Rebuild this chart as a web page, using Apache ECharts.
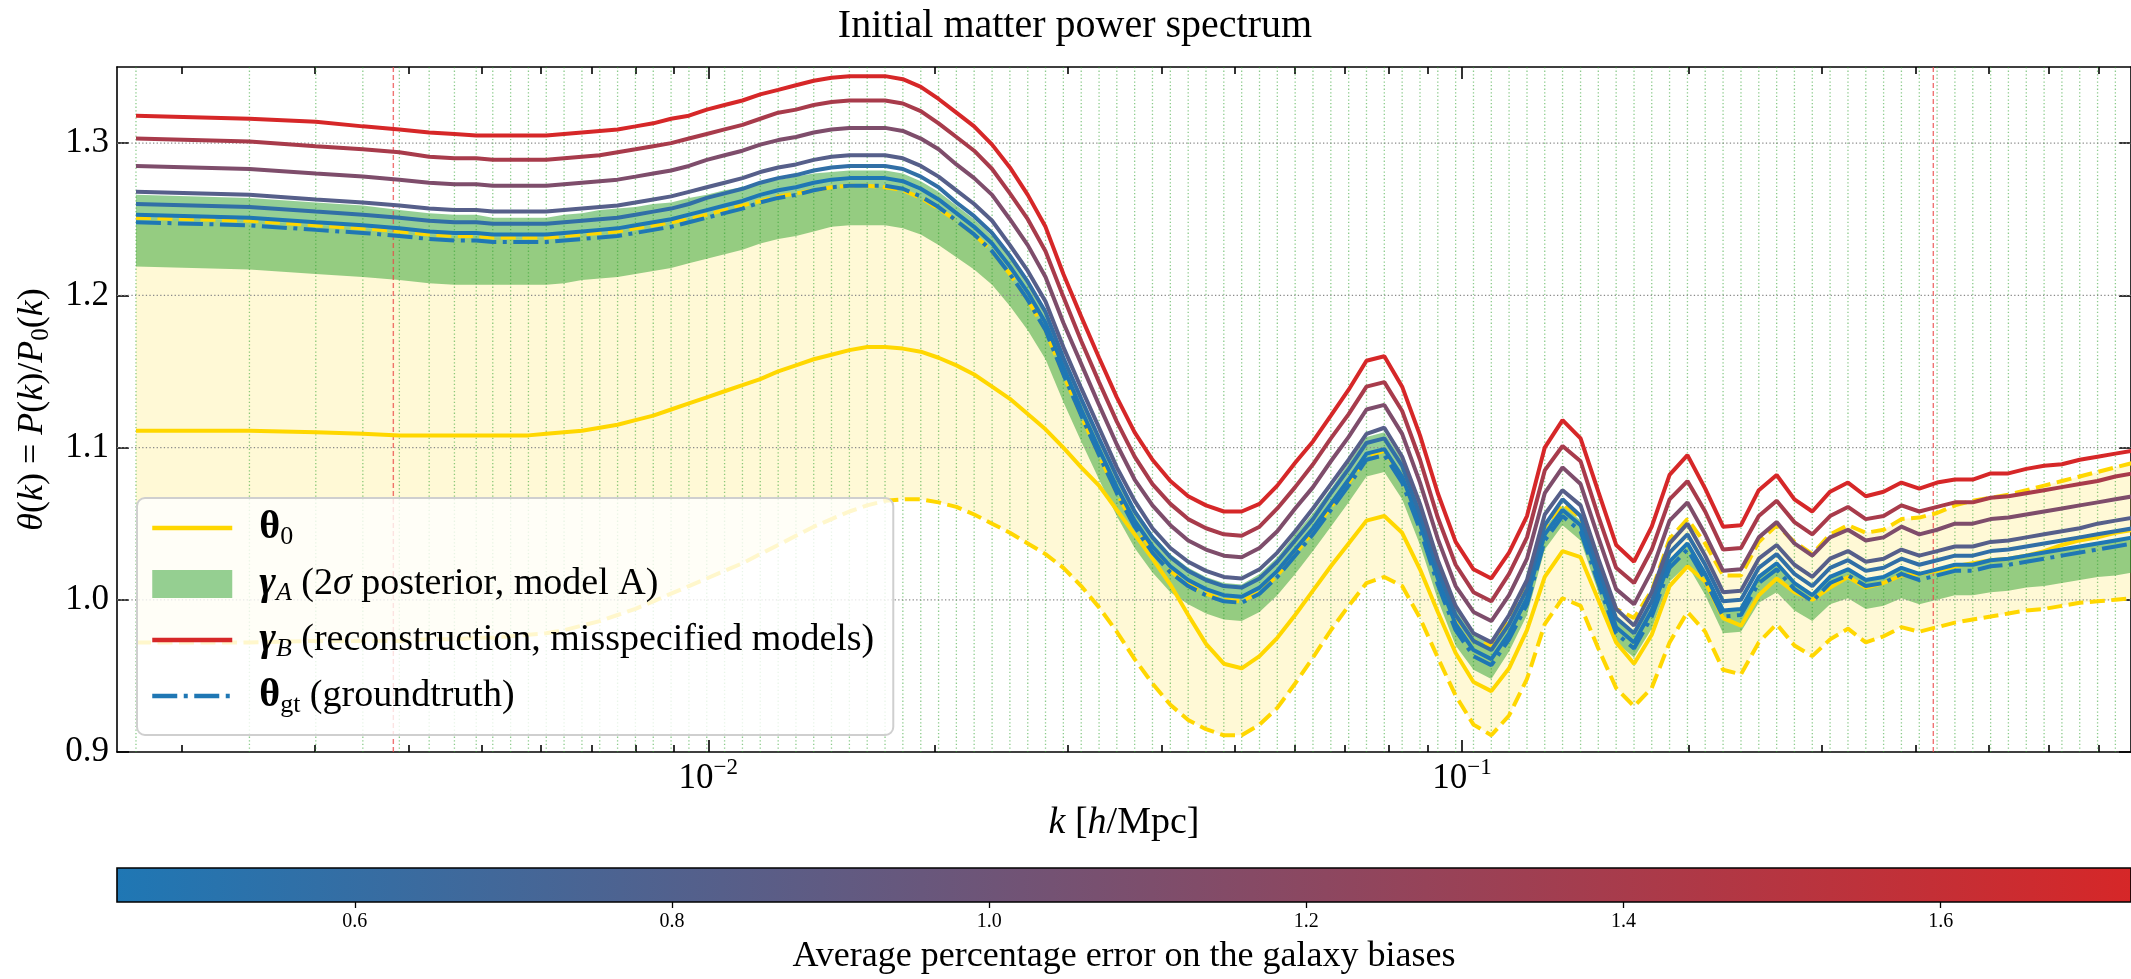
<!DOCTYPE html>
<html>
<head>
<meta charset="utf-8">
<script src="https://cdn.jsdelivr.net/npm/echarts@6/dist/echarts.min.js"></script>
<style>
html,body{margin:0;padding:0;background:#fff;}
#chart{width:2131px;height:979px;}
</style>
</head>
<body>
<div id="chart"></div>
<script>
// Wavenumber bins k [h/Mpc]
const kBins = [0.00174, 0.002461, 0.003014, 0.00348, 0.003891, 0.004262, 0.004604, 0.004921,
  0.005176, 0.005466, 0.005772, 0.006095, 0.006436, 0.006797, 0.007177, 0.007579, 0.008004, 0.008452,
  0.008925, 0.009425, 0.009953, 0.01051, 0.0111, 0.01172, 0.01238, 0.01307, 0.0138, 0.01457,
  0.01539, 0.01625, 0.01716, 0.01812, 0.01914, 0.02021, 0.02134, 0.02253, 0.0238, 0.02513,
  0.02654, 0.02802, 0.02959, 0.03125, 0.033, 0.03484, 0.03679, 0.03885, 0.04103, 0.04333,
  0.04575, 0.04831, 0.05102, 0.05388, 0.05689, 0.06008, 0.06344, 0.067, 0.07075, 0.07471,
  0.07889, 0.08331, 0.08798, 0.0929, 0.0981, 0.1036, 0.1094, 0.1155, 0.122, 0.1288,
  0.136, 0.1437, 0.1517, 0.1602, 0.1692, 0.1786, 0.1886, 0.1992, 0.2103, 0.2221,
  0.2346, 0.2477, 0.2616, 0.2762, 0.2917, 0.308, 0.3253, 0.3435, 0.3627, 0.383,
  0.4045, 0.4271, 0.451, 0.4763, 0.503, 0.5311, 0.5609, 0.5923, 0.6254, 0.6604,
  0.6974, 0.7364, 0.7775];

// Fiducial prior spectrum theta_0 and its band
const theta0Fid = [1.111, 1.111, 1.110, 1.109, 1.108, 1.108, 1.108, 1.108, 1.108, 1.108,
  1.108, 1.109, 1.110, 1.111, 1.113, 1.115, 1.118, 1.121, 1.125, 1.129,
  1.133, 1.137, 1.141, 1.145, 1.150, 1.154, 1.158, 1.161, 1.164, 1.166,
  1.166, 1.165, 1.163, 1.159, 1.154, 1.148, 1.140, 1.132, 1.122, 1.112,
  1.100, 1.087, 1.075, 1.059, 1.043, 1.027, 1.010, 0.990, 0.971, 0.958,
  0.955, 0.963, 0.975, 0.990, 1.006, 1.022, 1.037, 1.052, 1.055, 1.044,
  1.020, 0.992, 0.965, 0.946, 0.940, 0.955, 0.980, 1.015, 1.032, 1.028,
  1.000, 0.972, 0.958, 0.977, 1.009, 1.022, 1.012, 0.988, 0.983, 1.003,
  1.014, 1.005, 1.000, 1.008, 1.015, 1.008, 1.011, 1.016, 1.017, 1.019,
  1.022, 1.024, 1.026, 1.027, 1.029, 1.032, 1.036, 1.039, 1.041, 1.044,
  1.046];
const theta0Upper = [1.251, 1.249, 1.246, 1.244, 1.242, 1.240, 1.239, 1.239, 1.238, 1.238,
  1.238, 1.238, 1.239, 1.240, 1.241, 1.242, 1.244, 1.246, 1.248, 1.250,
  1.253, 1.256, 1.259, 1.262, 1.265, 1.267, 1.269, 1.271, 1.272, 1.272,
  1.271, 1.269, 1.264, 1.257, 1.249, 1.240, 1.229, 1.214, 1.197, 1.177,
  1.148, 1.121, 1.095, 1.070, 1.049, 1.032, 1.019, 1.010, 1.004, 1.000,
  0.999, 1.005, 1.016, 1.030, 1.045, 1.061, 1.077, 1.094, 1.098, 1.081,
  1.051, 1.017, 0.989, 0.973, 0.970, 0.986, 1.008, 1.048, 1.063, 1.054,
  1.022, 0.994, 0.988, 1.006, 1.040, 1.053, 1.037, 1.016, 1.016, 1.038,
  1.049, 1.038, 1.030, 1.043, 1.049, 1.044, 1.046, 1.053, 1.054, 1.057,
  1.062, 1.065, 1.067, 1.069, 1.072, 1.075, 1.078, 1.081, 1.084, 1.087,
  1.090];
const theta0Lower = [0.972, 0.972, 0.973, 0.973, 0.973, 0.974, 0.974, 0.975, 0.975, 0.976,
  0.977, 0.978, 0.980, 0.983, 0.986, 0.990, 0.994, 0.999, 1.004, 1.009,
  1.014, 1.019, 1.024, 1.030, 1.036, 1.042, 1.048, 1.053, 1.058, 1.062,
  1.065, 1.066, 1.066, 1.064, 1.061, 1.056, 1.050, 1.044, 1.037, 1.030,
  1.021, 1.009, 0.995, 0.979, 0.961, 0.945, 0.931, 0.921, 0.915, 0.911,
  0.911, 0.918, 0.929, 0.945, 0.962, 0.980, 0.996, 1.011, 1.015, 1.009,
  0.988, 0.962, 0.937, 0.918, 0.911, 0.924, 0.948, 0.984, 1.001, 0.996,
  0.968, 0.942, 0.930, 0.942, 0.972, 0.992, 0.979, 0.954, 0.951, 0.972,
  0.984, 0.970, 0.963, 0.974, 0.981, 0.972, 0.976, 0.982, 0.979, 0.982,
  0.985, 0.987, 0.989, 0.991, 0.993, 0.994, 0.996, 0.998, 0.999, 1.000,
  1.001];

// Model A posterior, 2 sigma band
const gammaAUpper = [1.266, 1.264, 1.261, 1.259, 1.256, 1.254, 1.253, 1.253, 1.251, 1.251,
  1.251, 1.251, 1.253, 1.254, 1.256, 1.257, 1.258, 1.260, 1.261, 1.264,
  1.266, 1.269, 1.271, 1.274, 1.276, 1.278, 1.280, 1.281, 1.282, 1.282,
  1.282, 1.280, 1.275, 1.268, 1.259, 1.250, 1.239, 1.225, 1.208, 1.188,
  1.159, 1.132, 1.106, 1.082, 1.060, 1.043, 1.030, 1.021, 1.015, 1.011,
  1.010, 1.017, 1.028, 1.043, 1.057, 1.073, 1.090, 1.107, 1.110, 1.092,
  1.061, 1.025, 0.995, 0.978, 0.972, 0.987, 1.008, 1.047, 1.062, 1.052,
  1.019, 0.987, 0.977, 0.996, 1.026, 1.037, 1.017, 0.993, 0.994, 1.015,
  1.024, 1.011, 1.003, 1.015, 1.020, 1.013, 1.015, 1.021, 1.017, 1.020,
  1.023, 1.023, 1.026, 1.027, 1.029, 1.031, 1.033, 1.035, 1.037, 1.039,
  1.041];
const gammaALower = [1.219, 1.217, 1.214, 1.212, 1.210, 1.208, 1.207, 1.207, 1.207, 1.207,
  1.207, 1.207, 1.208, 1.210, 1.211, 1.212, 1.214, 1.216, 1.218, 1.221,
  1.224, 1.227, 1.230, 1.234, 1.237, 1.239, 1.242, 1.245, 1.246, 1.246,
  1.246, 1.244, 1.240, 1.233, 1.225, 1.217, 1.207, 1.193, 1.177, 1.158,
  1.130, 1.104, 1.079, 1.055, 1.034, 1.018, 1.005, 0.997, 0.991, 0.987,
  0.986, 0.992, 1.003, 1.017, 1.032, 1.048, 1.064, 1.081, 1.084, 1.066,
  1.036, 1.000, 0.970, 0.954, 0.948, 0.966, 0.990, 1.033, 1.049, 1.039,
  1.005, 0.972, 0.962, 0.981, 1.012, 1.023, 1.003, 0.978, 0.979, 0.998,
  1.005, 0.993, 0.986, 0.997, 1.001, 0.994, 0.996, 1.001, 0.997, 1.000,
  1.003, 1.003, 1.005, 1.006, 1.008, 1.009, 1.011, 1.013, 1.015, 1.016,
  1.018];

// Ground truth spectrum
const thetaGroundTruth = [1.248, 1.246, 1.243, 1.241, 1.239, 1.237, 1.236, 1.236, 1.235, 1.235,
  1.235, 1.235, 1.236, 1.237, 1.238, 1.239, 1.241, 1.243, 1.245, 1.248,
  1.251, 1.254, 1.257, 1.261, 1.264, 1.266, 1.269, 1.271, 1.272, 1.272,
  1.272, 1.270, 1.265, 1.258, 1.249, 1.240, 1.229, 1.214, 1.197, 1.177,
  1.148, 1.121, 1.095, 1.070, 1.048, 1.031, 1.018, 1.009, 1.003, 0.999,
  0.998, 1.004, 1.015, 1.029, 1.043, 1.059, 1.075, 1.092, 1.095, 1.077,
  1.046, 1.010, 0.980, 0.963, 0.957, 0.974, 0.997, 1.039, 1.055, 1.045,
  1.011, 0.978, 0.968, 0.989, 1.021, 1.033, 1.013, 0.989, 0.990, 1.011,
  1.020, 1.007, 0.999, 1.011, 1.016, 1.009, 1.011, 1.017, 1.013, 1.016,
  1.019, 1.019, 1.022, 1.023, 1.025, 1.027, 1.029, 1.031, 1.033, 1.035,
  1.037];

// Reconstructions with misspecified models (model B), one per bias error level
const biasErrors = [0.45, 0.577, 0.83, 1.11, 1.40, 1.72];
const recon045 = [1.253, 1.251, 1.248, 1.246, 1.244, 1.242, 1.241, 1.241, 1.240, 1.240,
  1.240, 1.240, 1.241, 1.242, 1.243, 1.244, 1.246, 1.248, 1.250, 1.253,
  1.256, 1.259, 1.262, 1.266, 1.269, 1.271, 1.274, 1.276, 1.277, 1.277,
  1.277, 1.275, 1.270, 1.263, 1.254, 1.245, 1.234, 1.219, 1.202, 1.182,
  1.153, 1.125, 1.099, 1.074, 1.052, 1.035, 1.022, 1.013, 1.007, 1.003,
  1.002, 1.008, 1.019, 1.033, 1.047, 1.063, 1.079, 1.096, 1.099, 1.081,
  1.050, 1.014, 0.984, 0.967, 0.961, 0.978, 1.001, 1.043, 1.059, 1.049,
  1.015, 0.982, 0.972, 0.993, 1.025, 1.037, 1.017, 0.993, 0.994, 1.015,
  1.024, 1.011, 1.003, 1.015, 1.020, 1.013, 1.015, 1.021, 1.017, 1.020,
  1.023, 1.023, 1.026, 1.027, 1.029, 1.031, 1.033, 1.035, 1.037, 1.039,
  1.041];
const recon058 = [1.260, 1.258, 1.255, 1.253, 1.251, 1.249, 1.248, 1.248, 1.247, 1.247,
  1.247, 1.247, 1.248, 1.249, 1.250, 1.251, 1.253, 1.255, 1.257, 1.260,
  1.264, 1.267, 1.270, 1.274, 1.277, 1.279, 1.282, 1.284, 1.285, 1.285,
  1.285, 1.283, 1.278, 1.271, 1.261, 1.252, 1.241, 1.226, 1.209, 1.189,
  1.159, 1.132, 1.106, 1.081, 1.058, 1.041, 1.028, 1.019, 1.013, 1.009,
  1.008, 1.014, 1.025, 1.039, 1.053, 1.070, 1.086, 1.103, 1.106, 1.088,
  1.056, 1.020, 0.990, 0.973, 0.967, 0.984, 1.007, 1.049, 1.066, 1.055,
  1.021, 0.988, 0.978, 0.999, 1.031, 1.043, 1.023, 0.999, 1.000, 1.021,
  1.030, 1.017, 1.009, 1.021, 1.026, 1.019, 1.021, 1.027, 1.023, 1.026,
  1.029, 1.029, 1.032, 1.033, 1.035, 1.037, 1.039, 1.041, 1.043, 1.045,
  1.047];
const recon083 = [1.268, 1.266, 1.263, 1.261, 1.259, 1.257, 1.256, 1.256, 1.255, 1.255,
  1.255, 1.255, 1.256, 1.257, 1.258, 1.259, 1.261, 1.263, 1.265, 1.268,
  1.271, 1.274, 1.277, 1.281, 1.284, 1.286, 1.289, 1.291, 1.292, 1.292,
  1.292, 1.290, 1.285, 1.278, 1.269, 1.260, 1.249, 1.233, 1.216, 1.196,
  1.166, 1.139, 1.113, 1.087, 1.065, 1.047, 1.034, 1.025, 1.019, 1.015,
  1.014, 1.020, 1.031, 1.045, 1.060, 1.076, 1.092, 1.109, 1.113, 1.094,
  1.063, 1.026, 0.996, 0.978, 0.972, 0.990, 1.013, 1.056, 1.072, 1.062,
  1.027, 0.994, 0.983, 1.005, 1.037, 1.050, 1.029, 1.005, 1.006, 1.027,
  1.036, 1.023, 1.015, 1.027, 1.032, 1.025, 1.027, 1.033, 1.029, 1.032,
  1.035, 1.035, 1.038, 1.039, 1.041, 1.043, 1.045, 1.047, 1.050, 1.052,
  1.054];
const recon111 = [1.285, 1.283, 1.280, 1.278, 1.276, 1.274, 1.273, 1.273, 1.272, 1.272,
  1.272, 1.272, 1.273, 1.274, 1.275, 1.276, 1.278, 1.280, 1.282, 1.285,
  1.289, 1.292, 1.295, 1.299, 1.302, 1.304, 1.307, 1.309, 1.310, 1.310,
  1.310, 1.308, 1.303, 1.296, 1.286, 1.277, 1.266, 1.250, 1.233, 1.212,
  1.182, 1.155, 1.128, 1.102, 1.079, 1.062, 1.049, 1.039, 1.033, 1.029,
  1.028, 1.034, 1.045, 1.060, 1.074, 1.091, 1.107, 1.125, 1.128, 1.109,
  1.077, 1.040, 1.009, 0.992, 0.986, 1.003, 1.027, 1.070, 1.087, 1.076,
  1.041, 1.007, 0.997, 1.019, 1.052, 1.064, 1.043, 1.019, 1.020, 1.041,
  1.051, 1.037, 1.029, 1.041, 1.046, 1.039, 1.041, 1.048, 1.043, 1.046,
  1.050, 1.050, 1.053, 1.054, 1.056, 1.058, 1.060, 1.062, 1.064, 1.066,
  1.068];
const recon140 = [1.303, 1.301, 1.298, 1.296, 1.294, 1.291, 1.290, 1.290, 1.289, 1.289,
  1.289, 1.289, 1.290, 1.291, 1.292, 1.294, 1.296, 1.298, 1.300, 1.303,
  1.306, 1.309, 1.312, 1.316, 1.320, 1.322, 1.325, 1.327, 1.328, 1.328,
  1.328, 1.326, 1.321, 1.313, 1.304, 1.295, 1.283, 1.267, 1.250, 1.229,
  1.199, 1.170, 1.143, 1.117, 1.094, 1.076, 1.063, 1.053, 1.047, 1.043,
  1.042, 1.048, 1.060, 1.074, 1.089, 1.106, 1.122, 1.140, 1.143, 1.124,
  1.092, 1.054, 1.023, 1.005, 0.999, 1.017, 1.041, 1.085, 1.101, 1.091,
  1.055, 1.021, 1.011, 1.033, 1.066, 1.078, 1.058, 1.033, 1.034, 1.055,
  1.065, 1.051, 1.043, 1.055, 1.061, 1.053, 1.055, 1.062, 1.058, 1.061,
  1.064, 1.064, 1.067, 1.068, 1.070, 1.072, 1.074, 1.076, 1.078, 1.081,
  1.083];
const recon172 = [1.318, 1.316, 1.314, 1.311, 1.309, 1.307, 1.306, 1.305, 1.305, 1.305,
  1.305, 1.305, 1.306, 1.307, 1.308, 1.309, 1.311, 1.313, 1.316, 1.318,
  1.322, 1.325, 1.328, 1.332, 1.335, 1.338, 1.341, 1.343, 1.344, 1.344,
  1.344, 1.342, 1.337, 1.329, 1.320, 1.311, 1.299, 1.284, 1.266, 1.245,
  1.214, 1.186, 1.159, 1.133, 1.110, 1.092, 1.078, 1.068, 1.062, 1.058,
  1.058, 1.063, 1.075, 1.090, 1.104, 1.121, 1.138, 1.157, 1.160, 1.140,
  1.108, 1.070, 1.038, 1.020, 1.014, 1.031, 1.055, 1.100, 1.118, 1.106,
  1.071, 1.036, 1.025, 1.048, 1.082, 1.095, 1.073, 1.048, 1.049, 1.072,
  1.082, 1.066, 1.058, 1.071, 1.077, 1.068, 1.071, 1.077, 1.073, 1.077,
  1.079, 1.079, 1.083, 1.083, 1.086, 1.088, 1.089, 1.092, 1.094, 1.096,
  1.098];
const reconCurves = [recon045, recon058, recon083, recon111, recon140, recon172];

// Axis ranges and ticks
const kAxisMin = 0.001642, kAxisMax = 0.7724;
const kMajorTicks = [0.01, 0.1];
const kMinorTicks = [0.002, 0.003, 0.004, 0.005, 0.006, 0.007, 0.008, 0.009,
  0.02, 0.03, 0.04, 0.05, 0.06, 0.07, 0.08, 0.09, 0.2, 0.3, 0.4, 0.5, 0.6, 0.7];
const kCuts = [0.00382, 0.4222];
const yMin = 0.9, yMax = 1.35;
const yTicks = [0.9, 1.0, 1.1, 1.2, 1.3];
const colorbarTicks = [0.6, 0.8, 1.0, 1.2, 1.4, 1.6];

const FONT = 'Liberation Serif';
const GOLD = '#FFD700';
const BLUE = [31, 119, 180], RED = [214, 39, 40];
const errMin = Math.min(...biasErrors), errMax = Math.max(...biasErrors);
function errColor(e) {
  const t = (e - errMin) / (errMax - errMin);
  const c = BLUE.map((a, j) => Math.round(a + (RED[j] - a) * t));
  return 'rgb(' + c.join(',') + ')';
}
const lg = k => Math.log10(k);
const xMin = lg(kAxisMin), xMax = lg(kAxisMax);
const pairs = arr => kBins.map((k, i) => [lg(k), arr[i]]);

function lineSeries(name, arr, color, width, type, z) {
  return {
    type: 'line', name, data: pairs(arr), xAxisIndex: 0, yAxisIndex: 0,
    symbol: 'none', showSymbol: false, z, silent: true,
    lineStyle: { color, width, type, cap: 'butt' }, itemStyle: { color },
    emphasis: { disabled: true }
  };
}

function bandSeries(name, lower, upper, color, z) {
  return {
    type: 'custom', name, z, clip: true, silent: true,
    xAxisIndex: 0, yAxisIndex: 0,
    data: kBins.map((k, i) => [lg(k), lower[i], upper[i]]),
    encode: { x: 0, y: [1, 2] },
    itemStyle: { color },
    renderItem(params, api) {
      if (params.dataIndex !== 0) return null;
      const top = kBins.map((k, i) => api.coord([lg(k), upper[i]]));
      const bottom = kBins.map((k, i) => api.coord([lg(k), lower[i]])).reverse();
      return { type: 'polygon', shape: { points: top.concat(bottom) }, style: { fill: color } };
    }
  };
}

function vLineSeries(values, stroke, width, dash, z) {
  return {
    type: 'custom', z, silent: true, clip: true, xAxisIndex: 0, yAxisIndex: 0,
    data: values.map(k => [lg(k), yMin]), encode: { x: 0, y: 1 },
    renderItem(params, api) {
      const x = api.value(0);
      const a = api.coord([x, yMax]), b = api.coord([x, yMin]);
      return { type: 'line', shape: { x1: a[0], y1: a[1], x2: b[0], y2: b[1] },
        style: { stroke, lineWidth: width, lineDash: dash } };
    }
  };
}

function hLineSeries(values, stroke, width, dash, z) {
  return {
    type: 'custom', z, silent: true, clip: true, xAxisIndex: 0, yAxisIndex: 0,
    data: values.map(v => [xMin, v]), encode: { x: 0, y: 1 },
    renderItem(params, api) {
      const v = api.value(1);
      const a = api.coord([xMin, v]), b = api.coord([xMax, v]);
      return { type: 'line', shape: { x1: a[0], y1: a[1], x2: b[0], y2: b[1] },
        style: { stroke, lineWidth: width, lineDash: dash } };
    }
  };
}

const axisBlack = { color: '#000', width: 1.6 };
const xBase = {
  type: 'value', gridIndex: 0, min: xMin, max: xMax,
  splitLine: { show: false }, axisLabel: { show: false },
  axisLine: { show: false }, axisTick: { show: false }
};
const majorX = kMajorTicks.map(lg);
const minorX = kMinorTicks.map(lg);

const legendText = {
  theta0: '{bs|θ}{sub|0}',
  gammaA: '{bi|γ}{subi|A}{t| (2}{ti|σ}{t| posterior, model A)}',
  gammaB: '{bi|γ}{subi|B}{t| (reconstruction, misspecified models)}',
  thetaGt: '{bs|θ}{sub|gt}{t| (groundtruth)}'
};

const series = [
  bandSeries('theta0Band', theta0Lower, theta0Upper, 'rgba(255,215,0,0.16)', 1),
  bandSeries('gammaA', gammaALower, gammaAUpper, 'rgba(44,160,44,0.5)', 2),
  vLineSeries(kBins, 'rgba(44,160,44,0.55)', 1.3, [1.3, 2.3], 3),
  vLineSeries(kCuts, 'rgba(235,70,70,0.75)', 1.4, [5, 3], 3),
  hLineSeries(yTicks.slice(1), '#8a8a8a', 1.3, [1.3, 2.3], 3),
  lineSeries('theta0Low', theta0Lower, GOLD, 4, [15, 6.5], 4),
  lineSeries('theta0High', theta0Upper, GOLD, 4, [15, 6.5], 4),
  lineSeries('theta0', theta0Fid, GOLD, 4, 'solid', 4)
];
reconCurves.forEach((arr, j) => {
  const e = biasErrors[j];
  const name = e === errMax ? 'gammaB' : 'gammaB_' + e;
  series.push(lineSeries(name, arr, errColor(e), 4, 'solid', 5));
});
series.push(lineSeries('thetaGt', thetaGroundTruth, '#1f77b4', 4, [25, 6.5, 4, 6.5], 6));

// colour bar of the bias error levels
series.push({
  type: 'custom', xAxisIndex: 4, yAxisIndex: 2, silent: true, z: 2,
  data: [[errMin, 0, errMax, 1]], encode: { x: [0, 2], y: [1, 3] },
  renderItem(params, api) {
    const p0 = api.coord([api.value(0), api.value(3)]);
    const p1 = api.coord([api.value(2), api.value(1)]);
    return {
      type: 'rect',
      shape: { x: p0[0], y: p0[1], width: p1[0] - p0[0], height: p1[1] - p0[1] },
      style: {
        fill: new echarts.graphic.LinearGradient(0, 0, 1, 0, [
          { offset: 0, color: errColor(errMin) }, { offset: 1, color: errColor(errMax) }]),
        stroke: '#000', lineWidth: 1.6
      }
    };
  }
});

const option = {
  animation: false,
  backgroundColor: '#fff',
  textStyle: { fontFamily: FONT, color: '#000' },
  title: {
    text: 'Initial matter power spectrum', left: 1075, textAlign: 'center', top: 6, padding: 0,
    textStyle: { fontFamily: FONT, fontSize: 40, fontWeight: 'normal', color: '#000' }
  },
  grid: [
    { left: 117, top: 67, width: 2019, height: 685, containLabel: false },
    { left: 117, top: 868, width: 2019, height: 35, containLabel: false }
  ],
  legend: {
    z: 20, zlevel: 0,
    orient: 'vertical', left: 137, top: 498,
    itemWidth: 80, itemHeight: 28, itemGap: 14,
    padding: [10, 19, 17, 13],
    backgroundColor: 'rgba(255,255,255,0.8)', borderColor: '#cfcfcf', borderWidth: 2, borderRadius: 8,
    selectedMode: false,
    // line entries show only the line stroke, no marker
    itemStyle: { opacity: 0 },
    lineStyle: { width: 4.5 },
    data: [
      { name: 'theta0' },
      { name: 'gammaA', icon: 'rect', itemStyle: { color: 'rgba(44,160,44,0.5)', opacity: 1 } },
      { name: 'gammaB' },
      { name: 'thetaGt' }
    ],
    formatter: n => legendText[n],
    textStyle: {
      fontFamily: FONT, fontSize: 38, color: '#000', padding: [0, 0, 0, 22],
      rich: {
        t: { fontFamily: FONT, fontSize: 38, lineHeight: 44 },
        ti: { fontFamily: FONT, fontSize: 38, fontStyle: 'italic', lineHeight: 44 },
        bs: { fontFamily: FONT, fontSize: 40, fontWeight: 'bold', lineHeight: 44 },
        bi: { fontFamily: FONT, fontSize: 40, fontWeight: 'bold', fontStyle: 'italic', lineHeight: 44 },
        sub: { fontFamily: FONT, fontSize: 26, lineHeight: 28, verticalAlign: 'bottom' },
        subi: { fontFamily: FONT, fontSize: 26, fontStyle: 'italic', lineHeight: 28, verticalAlign: 'bottom' }
      }
    }
  },
  xAxis: [
    Object.assign({}, xBase, {
      position: 'bottom',
      axisLine: { show: true, onZero: false, lineStyle: axisBlack },
      axisTick: { show: true, inside: true, length: 12, lineStyle: axisBlack, customValues: majorX },
      axisLabel: {
        show: true, customValues: majorX, margin: 4,
        formatter: v => '{b|10}{s|−' + Math.abs(Math.round(v)) + '}',
        rich: {
          b: { fontFamily: FONT, fontSize: 35, lineHeight: 40, verticalAlign: 'bottom', color: '#000' },
          s: { fontFamily: FONT, fontSize: 23, lineHeight: 24, verticalAlign: 'top', color: '#000' }
        }
      },
      name: '{i|k} [{i|h}/Mpc]', nameLocation: 'middle', nameGap: 48,
      nameTextStyle: {
        fontFamily: FONT, fontSize: 38, color: '#000', lineHeight: 44,
        rich: { i: { fontFamily: FONT, fontSize: 38, fontStyle: 'italic', lineHeight: 44 } }
      }
    }),
    Object.assign({}, xBase, {
      position: 'bottom',
      axisTick: { show: true, inside: true, length: 7, lineStyle: axisBlack, customValues: minorX }
    }),
    Object.assign({}, xBase, {
      position: 'top',
      axisLine: { show: true, onZero: false, lineStyle: axisBlack },
      axisTick: { show: true, inside: true, length: 12, lineStyle: axisBlack, customValues: majorX }
    }),
    Object.assign({}, xBase, {
      position: 'top',
      axisTick: { show: true, inside: true, length: 7, lineStyle: axisBlack, customValues: minorX }
    }),
    {
      type: 'value', gridIndex: 1, min: errMin, max: errMax, position: 'bottom',
      splitLine: { show: false },
      axisLine: { show: false },
      axisTick: { show: true, inside: false, length: 6, lineStyle: { color: '#000', width: 1.3 }, customValues: colorbarTicks },
      axisLabel: { show: true, customValues: colorbarTicks, margin: 10, fontFamily: FONT, fontSize: 20, color: '#000',
        formatter: v => v.toFixed(1) },
      name: 'Average percentage error on the galaxy biases', nameLocation: 'middle', nameGap: 34,
      nameTextStyle: { fontFamily: FONT, fontSize: 36, color: '#000', lineHeight: 42 }
    }
  ],
  yAxis: [
    {
      type: 'value', gridIndex: 0, position: 'left', min: yMin, max: yMax, interval: 0.1,
      splitLine: { show: false },
      axisLine: { show: true, onZero: false, lineStyle: axisBlack },
      axisTick: { show: true, inside: true, length: 12, lineStyle: axisBlack, customValues: yTicks },
      axisLabel: { show: true, customValues: yTicks, margin: 8, fontFamily: FONT, fontSize: 35, color: '#000',
        formatter: v => v.toFixed(1) },
      name: '{i|θ}({i|k}) = {i|P}({i|k})/{i|P}{s|0}({i|k})',
      nameLocation: 'middle', nameRotate: 90, nameGap: 52,
      nameTextStyle: {
        fontFamily: FONT, fontSize: 36, color: '#000', lineHeight: 44,
        rich: {
          i: { fontFamily: FONT, fontSize: 36, fontStyle: 'italic', lineHeight: 44 },
          s: { fontFamily: FONT, fontSize: 25, lineHeight: 27, verticalAlign: 'bottom' }
        }
      }
    },
    {
      type: 'value', gridIndex: 0, position: 'right', min: yMin, max: yMax, interval: 0.1,
      splitLine: { show: false },
      axisLine: { show: true, onZero: false, lineStyle: axisBlack },
      axisTick: { show: true, inside: true, length: 12, lineStyle: axisBlack, customValues: yTicks },
      axisLabel: { show: false }
    },
    { type: 'value', gridIndex: 1, min: 0, max: 1, show: false }
  ],
  series
};

const chart = echarts.init(document.getElementById('chart'), null, { renderer: 'canvas', width: 2131, height: 979 });
chart.setOption(option);
</script>
</body>
</html>
